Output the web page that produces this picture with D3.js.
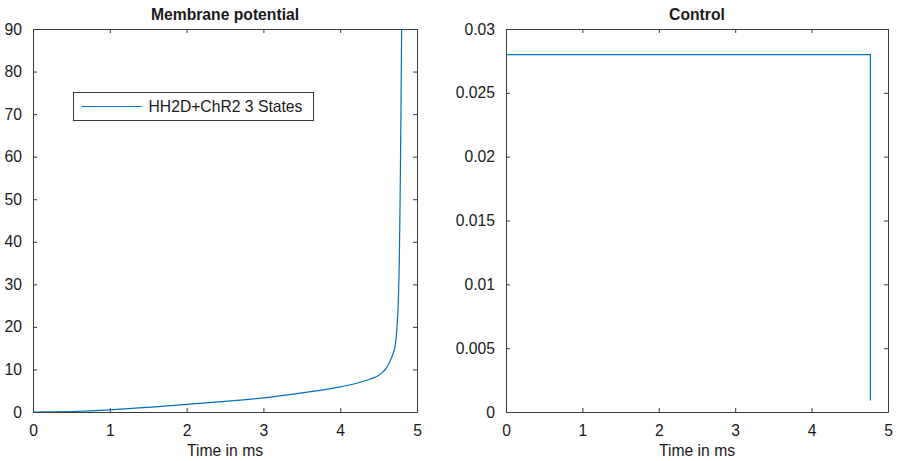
<!DOCTYPE html>
<html>
<head>
<meta charset="utf-8">
<script src="https://cdn.jsdelivr.net/npm/d3@7"></script>
<style>
  html, body { margin: 0; padding: 0; background: #fff; }
  svg { display: block; font-family: "Liberation Sans", Arial, Helvetica, sans-serif; }
</style>
</head>
<body>
<svg id="fig" width="898" height="461"></svg>
<script>
// Membrane potential trace (time in ms, potential)
const timeV = [0, 0.25, 0.5, 0.75, 1, 1.5, 2, 2.5, 3, 3.5, 4, 4.2, 4.4, 4.5, 4.55, 4.6, 4.65, 4.69, 4.715, 4.74, 4.757, 4.77, 4.78, 4.79, 4.80, 4.81];
const potential = [0, 0.03, 0.12, 0.28, 0.5, 1.1, 1.8, 2.5, 3.3, 4.5, 5.9, 6.7, 7.8, 8.6, 9.3, 10.3, 12.0, 13.8, 15.5, 20, 26.3, 36, 50, 68, 90, 100];

// Control input (time in ms, amplitude)
const timeU = [0, 4.77, 4.77];
const control = [0.028, 0.028, 0.0009];

const xTicks = [0, 1, 2, 3, 4, 5];
const vTicks = [0, 10, 20, 30, 40, 50, 60, 70, 80, 90];
const uTicks = [0, 0.005, 0.01, 0.015, 0.02, 0.025, 0.03];
const uTickLabels = ["0", "0.005", "0.01", "0.015", "0.02", "0.025", "0.03"];

const legendLabel = "HH2D+ChR2 3 States";
const titles = ["Membrane potential", "Control"];
const xLabel = "Time in ms";

const lineColor = "#0072BD";
const axisColor = "#3a3a3a";
const textColor = "#1a1a1a";
const fontSize = 15.7;

const svg = d3.select("#fig");

function panel(opts) {
  const { left, right, top, bottom, xDomain, yDomain, yTicks, yFmt, xs, ys, title, id, curve } = opts;
  const x = d3.scaleLinear().domain(xDomain).range([left, right]);
  const y = d3.scaleLinear().domain(yDomain).range([bottom, top]);
  const g = svg.append("g");

  g.append("clipPath").attr("id", id)
    .append("rect").attr("x", left).attr("y", top)
    .attr("width", right - left).attr("height", bottom - top);

  const styleAxis = sel => {
    sel.select(".domain").attr("stroke", axisColor).attr("stroke-width", 1);
    sel.selectAll(".tick line").attr("stroke", axisColor).attr("stroke-width", 1);
    sel.selectAll(".tick text").attr("fill", textColor).style("font-size", fontSize + "px");
    sel.attr("font-family", null);
  };

  // bottom axis with labels, ticks pointing inward
  g.append("g").attr("transform", `translate(0,${bottom})`)
    .call(d3.axisBottom(x).tickValues(xTicks).tickSizeInner(-4).tickSizeOuter(0).tickPadding(13).tickFormat(d3.format("d")))
    .call(styleAxis);
  // top mirror
  g.append("g").attr("transform", `translate(0,${top})`)
    .call(d3.axisTop(x).tickValues(xTicks).tickSizeInner(-4).tickSizeOuter(0).tickFormat(""))
    .call(styleAxis);
  // left axis with labels
  g.append("g").attr("transform", `translate(${left},0)`)
    .call(d3.axisLeft(y).tickValues(yTicks).tickSizeInner(-4).tickSizeOuter(0).tickPadding(11).tickFormat(yFmt))
    .call(styleAxis);
  // right mirror
  g.append("g").attr("transform", `translate(${right},0)`)
    .call(d3.axisRight(y).tickValues(yTicks).tickSizeInner(-4).tickSizeOuter(0).tickFormat(""))
    .call(styleAxis);

  const line = d3.line().x((d, i) => x(xs[i])).y((d, i) => y(ys[i])).curve(curve);
  g.append("path").datum(ys)
    .attr("clip-path", `url(#${id})`)
    .attr("fill", "none").attr("stroke", lineColor).attr("stroke-width", 1.2)
    .attr("stroke-linejoin", "round")
    .attr("d", line);

  g.append("text").attr("x", (left + right) / 2).attr("y", top - 9)
    .attr("text-anchor", "middle").attr("font-weight", "bold")
    .attr("fill", textColor).style("font-size", fontSize + "px").text(title);

  g.append("text").attr("x", (left + right) / 2).attr("y", bottom + 44)
    .attr("text-anchor", "middle")
    .attr("fill", textColor).style("font-size", fontSize + "px").text(xLabel);

  return { g, x, y };
}

const p1 = panel({
  id: "clipV", left: 33, right: 417, top: 29, bottom: 412,
  xDomain: [0, 5], yDomain: [0, 90], yTicks: vTicks, yFmt: d3.format("d"),
  xs: timeV, ys: potential, title: titles[0], curve: d3.curveMonotoneX
});

panel({
  id: "clipU", left: 506, right: 888, top: 29, bottom: 412,
  xDomain: [0, 5], yDomain: [0, 0.03], yTicks: uTicks, yFmt: (d, i) => uTickLabels[i],
  xs: timeU, ys: control, title: titles[1], curve: d3.curveLinear
});

// legend box on the potential panel
const lg = p1.g.append("g").attr("transform", "translate(73.5,92.5)");
lg.append("rect").attr("width", 240).attr("height", 28)
  .attr("fill", "#fff").attr("stroke", axisColor).attr("stroke-width", 1);
lg.append("line").attr("x1", 8).attr("x2", 68).attr("y1", 14).attr("y2", 14)
  .attr("stroke", lineColor).attr("stroke-width", 1.2);
lg.append("text").attr("x", 75).attr("y", 19.5)
  .attr("fill", textColor).style("font-size", fontSize + "px").text(legendLabel);
</script>
</body>
</html>
